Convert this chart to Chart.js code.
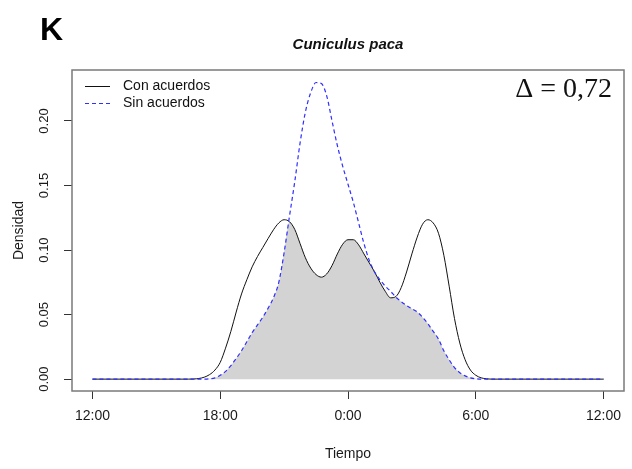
<!DOCTYPE html>
<html>
<head>
<meta charset="utf-8">
<script src="https://cdn.jsdelivr.net/npm/chart.js@4/dist/chart.umd.min.js"></script>
<style>
  html, body { margin: 0; padding: 0; background: #ffffff; }
  #wrap { width: 632px; height: 469px; position: relative; }
</style>
</head>
<body>
<div id="wrap"><canvas id="c" width="632" height="469"></canvas></div>
<script>
// ---- data (hours counted from 12:00 noon) ----
const hours = [0, 4.5, 4.75, 5, 5.25, 5.5, 5.75, 6, 6.25, 6.5, 6.75, 7, 7.25, 7.5, 7.75, 8, 8.25, 8.5, 8.75, 9, 9.25, 9.5, 9.75, 10, 10.25, 10.5, 10.75, 11, 11.25, 11.5, 11.75, 12, 12.25, 12.5, 12.75, 13, 13.25, 13.5, 13.75, 14, 14.25, 14.5, 14.75, 15, 15.25, 15.5, 15.75, 16, 16.25, 16.5, 16.75, 17, 17.25, 17.5, 17.75, 18, 18.25, 18.5, 18.75, 19, 24];
const conAcuerdos = [0, 0, 0.0001, 0.0005, 0.0015, 0.0035, 0.007, 0.013, 0.024, 0.037, 0.052, 0.066, 0.077, 0.087, 0.095, 0.102, 0.109, 0.1157, 0.121, 0.1235, 0.122, 0.116, 0.105, 0.094, 0.086, 0.081, 0.079, 0.0815, 0.088, 0.097, 0.1045, 0.108, 0.108, 0.104, 0.097, 0.090, 0.083, 0.075, 0.068, 0.063, 0.064, 0.071, 0.083, 0.097, 0.110, 0.120, 0.1235, 0.121, 0.113, 0.096, 0.072, 0.047, 0.028, 0.015, 0.007, 0.003, 0.001, 0.0003, 0, 0, 0];
const sinAcuerdos = [0, 0, 0, 0, 0, 0.0003, 0.001, 0.003, 0.006, 0.0105, 0.016, 0.022, 0.029, 0.036, 0.042, 0.048, 0.055, 0.063, 0.075, 0.098, 0.126, 0.153, 0.183, 0.207, 0.222, 0.2298, 0.2290, 0.2195, 0.200, 0.181, 0.165, 0.151, 0.137, 0.121, 0.105, 0.092, 0.083, 0.077, 0.072, 0.068, 0.0635, 0.060, 0.057, 0.0545, 0.052, 0.048, 0.043, 0.037, 0.031, 0.022, 0.015, 0.009, 0.005, 0.0025, 0.001, 0.0003, 0, 0, 0, 0, 0];
const seriesNames = ['Con acuerdos', 'Sin acuerdos'];
const xTickValues = [0, 6, 12, 18, 24];
const xTickLabels = ['12:00', '18:00', '0:00', '6:00', '12:00'];
const yTickValues = [0, 0.05, 0.10, 0.15, 0.20];
const yTickLabels = ['0.00', '0.05', '0.10', '0.15', '0.20'];
const panelLetter = 'K';
const chartTitle = 'Cuniculus paca';
const overlapLabel = '\u0394 = 0,72';
const xTitle = 'Tiempo';
const yTitle = 'Densidad';

const CON_COLOR = '#111111';
const SIN_COLOR = '#2f2fff';
const SIN_DASH = [4, 3];

const toPts = arr => hours.map((h, i) => ({x: h, y: arr[i]}));
const overlap = hours.map((h, i) => ({x: h, y: Math.min(conAcuerdos[i], sinAcuerdos[i])}));

const SANS = '"Liberation Sans", Arial, sans-serif';

const decor = {
  id: 'decor',
  afterDatasetsDraw(chart) {
    const {ctx, chartArea: a} = chart;
    ctx.save();
    // plot box
    ctx.strokeStyle = '#7a7a7a';
    ctx.lineWidth = 1.5;
    ctx.strokeRect(a.left, a.top, a.right - a.left, a.bottom - a.top);
    // legend (top-left, no box)
    const rows = [
      {label: seriesNames[0], color: CON_COLOR, dash: [], width: 1},
      {label: seriesNames[1], color: SIN_COLOR, dash: SIN_DASH, width: 1.2}
    ];
    ctx.font = '14px ' + SANS;
    ctx.textBaseline = 'middle';
    ctx.textAlign = 'left';
    rows.forEach((r, i) => {
      const y = 86 + i * 17;
      ctx.beginPath();
      ctx.setLineDash(r.dash);
      ctx.strokeStyle = r.color;
      ctx.lineWidth = r.width;
      ctx.moveTo(85, y + 0.5);
      ctx.lineTo(110, y + 0.5);
      ctx.stroke();
      ctx.setLineDash([]);
      ctx.fillStyle = '#111';
      ctx.fillText(r.label, 123, y);
    });
    // overlap coefficient
    ctx.font = '28px "Liberation Serif", "Times New Roman", serif';
    ctx.textAlign = 'right';
    ctx.textBaseline = 'alphabetic';
    ctx.fillStyle = '#111';
    ctx.fillText(overlapLabel, 612, 97);
    // title + panel letter
    ctx.textAlign = 'center';
    ctx.font = 'italic bold 15px ' + SANS;
    ctx.fillText(chartTitle, (a.left + a.right) / 2, 49);
    ctx.textAlign = 'left';
    ctx.font = 'bold 32px ' + SANS;
    ctx.fillStyle = '#000';
    ctx.fillText(panelLetter, 40, 40);
    ctx.restore();
  }
};

new Chart(document.getElementById('c'), {
  type: 'line',
  data: {
    datasets: [
      {label: 'overlap', data: overlap, borderWidth: 0, borderColor: 'rgba(0,0,0,0)', backgroundColor: '#d3d3d3', fill: 'origin', pointRadius: 0, cubicInterpolationMode: 'monotone', order: 3},
      {label: seriesNames[0], data: toPts(conAcuerdos), borderColor: CON_COLOR, borderWidth: 1, fill: false, pointRadius: 0, cubicInterpolationMode: 'monotone', order: 2},
      {label: seriesNames[1], data: toPts(sinAcuerdos), borderColor: SIN_COLOR, borderWidth: 1.2, borderDash: SIN_DASH, fill: false, pointRadius: 0, cubicInterpolationMode: 'monotone', order: 1}
    ]
  },
  options: {
    responsive: false,
    animation: false,
    events: [],
    layout: {padding: {top: 70, right: 8, left: 0, bottom: 0}},
    plugins: {legend: {display: false}, tooltip: {enabled: false}, title: {display: false}},
    scales: {
      x: {
        type: 'linear', min: -0.96, max: 24.96,
        afterBuildTicks: s => { s.ticks = xTickValues.map(v => ({value: v})); },
        afterFit: s => { s.height = 78; },
        ticks: {
          callback: v => xTickLabels[xTickValues.indexOf(v)],
          font: {family: SANS, size: 14}, color: '#1a1a1a', padding: 9, maxRotation: 0, minRotation: 0, autoSkip: false
        },
        grid: {display: true, drawOnChartArea: false, drawTicks: true, tickLength: 8, tickColor: '#333', tickWidth: 1},
        border: {display: false},
        title: {display: true, text: xTitle, font: {family: SANS, size: 14}, color: '#1a1a1a', padding: {top: 0, bottom: 6}}
      },
      y: {
        type: 'linear', min: -0.0092, max: 0.2395,
        afterBuildTicks: s => { s.ticks = yTickValues.map(v => ({value: v})); },
        afterFit: s => { s.width = 72; },
        ticks: {
          callback: v => yTickLabels[yTickValues.indexOf(v)],
          font: {family: SANS, size: 13}, color: '#1a1a1a', padding: 7, minRotation: 90, maxRotation: 90, crossAlign: 'center', autoSkip: false
        },
        grid: {display: true, drawOnChartArea: false, drawTicks: true, tickLength: 8, tickColor: '#333', tickWidth: 1},
        border: {display: false},
        title: {display: true, text: yTitle, font: {family: SANS, size: 14}, color: '#1a1a1a', padding: {top: 11, bottom: 0}}
      }
    }
  },
  plugins: [decor]
});
</script>
</body>
</html>
